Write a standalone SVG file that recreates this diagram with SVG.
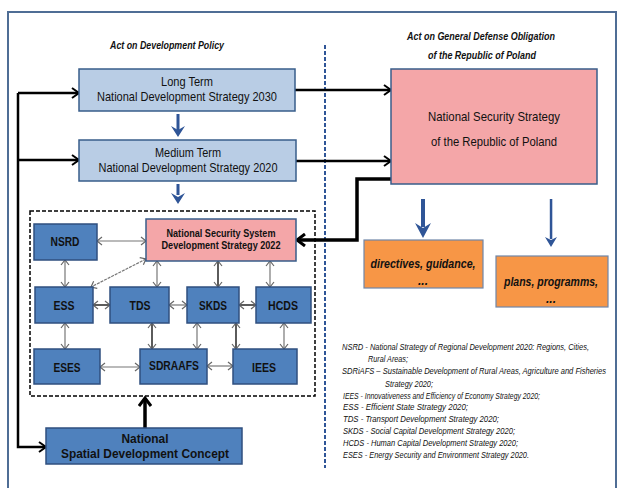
<svg xmlns="http://www.w3.org/2000/svg" width="618" height="488" viewBox="0 0 618 488">
<style>
  text { font-family: "Liberation Sans", Arial, sans-serif; fill: #111; }
  .ttl { font-size: 10px; font-weight: bold; font-style: italic; }
  .lb { fill: #B9CDE5; stroke: #385D8A; stroke-width: 1.5; }
  .db { fill: #4F81BD; stroke: #2F4F7F; stroke-width: 1.5; }
  .pk { fill: #F4A6A8; stroke: #385D8A; stroke-width: 1.5; }
  .or { fill: #F79646; stroke: #6F86A8; stroke-width: 1.2; }
  .t13 { font-size: 13px; text-anchor: middle; }
  .b13 { font-size: 13px; font-weight: bold; text-anchor: middle; }
  .b11 { font-size: 11px; font-weight: bold; text-anchor: middle; }
  .oi { font-size: 12px; font-weight: bold; font-style: italic; text-anchor: middle; }
  .lg { font-size: 8.5px; font-style: italic; fill: #111; }
  .blk { fill: none; stroke: #000; stroke-width: 2.5; marker-end: url(#ah); }
  .thk { fill: none; stroke: #000; stroke-width: 3.5; marker-end: url(#ahb); }
  .dbl { fill: none; stroke: #777; stroke-width: 1.2; marker-start: url(#dh); marker-end: url(#dh); }
  .dbd { fill: none; stroke: #333; stroke-width: 1.6; marker-start: url(#dh); marker-end: url(#dh); }
  .blu { fill: #2F5597; }
</style>
<defs>
  <marker id="ah" markerUnits="userSpaceOnUse" markerWidth="12" markerHeight="12" refX="10" refY="6" orient="auto">
    <path d="M3,1 L10,6 L3,11" fill="none" stroke="#000" stroke-width="2"/>
  </marker>
  <marker id="ahb" markerUnits="userSpaceOnUse" markerWidth="14" markerHeight="14" refX="11" refY="7" orient="auto">
    <path d="M3,1 L11,7 L3,13" fill="none" stroke="#000" stroke-width="3"/>
  </marker>
  <marker id="dh" markerUnits="userSpaceOnUse" markerWidth="10" markerHeight="10" refX="8" refY="5" orient="auto-start-reverse">
    <path d="M3,1 L8,5 L3,9" fill="none" stroke="#666" stroke-width="1.2"/>
  </marker>
</defs>

<rect x="8" y="12" width="608" height="484" fill="#fff" stroke="#4F6D95" stroke-width="2"/>
<line x1="325" y1="45" x2="325" y2="468" stroke="#2F5597" stroke-width="2" stroke-dasharray="4 2"/>
<rect x="30" y="211" width="285" height="185" fill="none" stroke="#000" stroke-width="1.5" stroke-dasharray="4 2"/>

<text class="ttl" x="110" y="49" textLength="114" lengthAdjust="spacingAndGlyphs">Act on Development Policy</text>
<text class="ttl" x="407" y="40" textLength="148" lengthAdjust="spacingAndGlyphs">Act on General Defense Obligation</text>
<text class="ttl" x="428" y="59" textLength="108" lengthAdjust="spacingAndGlyphs">of the Republic of Poland</text>

<g id="connectors">
  <path class="blk" d="M18,93 L79,93"/>
  <path class="blk" d="M18,160 L79,160"/>
  <path class="blk" d="M18,93 L18,447 L46,447"/>
  <path class="blk" d="M295,90 L391,90"/>
  <path class="blk" d="M296,161 L391,161"/>
  <path class="thk" d="M391,179 L357,179 L357,240 L297,240"/>
  <path class="thk" d="M145,428 L145,398"/>
  <rect class="blu" x="176.5" y="114" width="3" height="16"/>
  <path class="blu" d="M171,126 L178,137 L185,126 L178,130 Z"/>
  <rect class="blu" x="176.5" y="184" width="3" height="11"/>
  <path class="blu" d="M171,193 L178,204 L185,193 L178,197 Z"/>
  <rect class="blu" x="421" y="199" width="4" height="28"/>
  <path class="blu" d="M415,223 L423,238 L431,223 L423,228 Z"/>
  <rect class="blu" x="549.8" y="199" width="2.5" height="40"/>
  <path class="blu" d="M545,237 L551,247 L557,237 L551,240 Z"/>
  <path class="dbl" d="M97,241 L146,241"/>
  <path class="dbl" d="M65,260 L65,287"/>
  <path class="dbl" d="M146,259 L91,287" stroke-dasharray="3 1"/>
  <path class="dbl" d="M157,261 L157,287"/>
  <path class="dbd" d="M218,261 L218,287"/>
  <path class="dbl" d="M270,261 L270,287"/>
  <path class="dbd" d="M93,305 L110,305"/>
  <path class="dbl" d="M169,305 L187,305"/>
  <path class="dbd" d="M239,305 L256,305"/>
  <path class="dbl" d="M65,323 L65,349"/>
  <path class="dbd" d="M152,323 L152,349"/>
  <path class="dbl" d="M197,323 L197,349"/>
  <path class="dbd" d="M236,323 L236,349"/>
  <path class="dbl" d="M284,323 L284,349"/>
  <path class="dbl" d="M100,367 L140,367" stroke-width="2.5" stroke="#999"/>
  <path class="dbl" d="M207,366 L233,366"/>
</g>

<g id="long-term">
  <rect class="lb" x="79" y="69" width="216" height="42"/>
  <text class="t13" x="187" y="86" textLength="52" lengthAdjust="spacingAndGlyphs">Long Term</text>
  <text class="t13" x="187" y="101" textLength="180" lengthAdjust="spacingAndGlyphs">National Development Strategy 2030</text>
</g>
<g id="medium-term">
  <rect class="lb" x="79" y="140" width="217" height="41"/>
  <text class="t13" x="188" y="157" textLength="66" lengthAdjust="spacingAndGlyphs">Medium Term</text>
  <text class="t13" x="188" y="172" textLength="179" lengthAdjust="spacingAndGlyphs">National Development Strategy 2020</text>
</g>
<g id="nss">
  <rect class="pk" x="391" y="69" width="206" height="115"/>
  <text class="t13" x="494" y="121" textLength="132" lengthAdjust="spacingAndGlyphs">National  Security Strategy</text>
  <text class="t13" x="494" y="146" textLength="126" lengthAdjust="spacingAndGlyphs">of the Republic of Poland</text>
</g>
<g id="directives">
  <rect class="or" x="364" y="240" width="119" height="48"/>
  <text class="oi" x="423" y="268" textLength="105" lengthAdjust="spacingAndGlyphs">directives, guidance,</text>
  <text class="oi" x="423" y="285">...</text>
</g>
<g id="plans">
  <rect class="or" x="496" y="256" width="112" height="51"/>
  <text class="oi" x="551" y="286" textLength="94" lengthAdjust="spacingAndGlyphs">plans, programms,</text>
  <text class="oi" x="551" y="303">...</text>
</g>
<g id="nssds">
  <rect class="pk" x="146" y="219" width="150" height="42"/>
  <text class="b11" x="221" y="237" textLength="109" lengthAdjust="spacingAndGlyphs">National Security System</text>
  <text class="b11" x="221" y="249" textLength="119" lengthAdjust="spacingAndGlyphs">Development Strategy  2022</text>
</g>
<g id="nsrd">
  <rect class="db" x="34" y="224" width="63" height="36"/>
  <text class="b13" x="65" y="246" textLength="29" lengthAdjust="spacingAndGlyphs">NSRD</text>
</g>
<g id="ess">
  <rect class="db" x="35" y="287" width="58" height="36"/>
  <text class="b13" x="64" y="310" textLength="21" lengthAdjust="spacingAndGlyphs">ESS</text>
</g>
<g id="tds">
  <rect class="db" x="110" y="287" width="59" height="36"/>
  <text class="b13" x="140" y="310" textLength="21" lengthAdjust="spacingAndGlyphs">TDS</text>
</g>
<g id="skds">
  <rect class="db" x="187" y="287" width="52" height="36"/>
  <text class="b13" x="213" y="310" textLength="28" lengthAdjust="spacingAndGlyphs">SKDS</text>
</g>
<g id="hcds">
  <rect class="db" x="256" y="287" width="55" height="36"/>
  <text class="b13" x="283" y="310" textLength="30" lengthAdjust="spacingAndGlyphs">HCDS</text>
</g>
<g id="eses">
  <rect class="db" x="34" y="349" width="66" height="35"/>
  <text class="b13" x="67" y="372" textLength="27" lengthAdjust="spacingAndGlyphs">ESES</text>
</g>
<g id="sdraafs">
  <rect class="db" x="140" y="349" width="67" height="35"/>
  <text class="b13" x="174" y="370" textLength="50" lengthAdjust="spacingAndGlyphs">SDRAAFS</text>
</g>
<g id="iees">
  <rect class="db" x="233" y="349" width="64" height="35"/>
  <text class="b13" x="264" y="372" textLength="24" lengthAdjust="spacingAndGlyphs">IEES</text>
</g>
<g id="nsdc">
  <rect class="db" x="46" y="428" width="196" height="36"/>
  <text class="b13" x="145" y="443" textLength="47" lengthAdjust="spacingAndGlyphs">National</text>
  <text class="b13" x="145" y="458" textLength="168" lengthAdjust="spacingAndGlyphs">Spatial Development Concept</text>
</g>

<g id="legend">
  <text class="lg" x="342" y="350" textLength="247" lengthAdjust="spacingAndGlyphs">NSRD  - National Strategy of Regional Development 2020: Regions, Cities,</text>
  <text class="lg" x="368" y="362" textLength="40" lengthAdjust="spacingAndGlyphs">Rural Areas;</text>
  <text class="lg" x="342" y="374" textLength="264" lengthAdjust="spacingAndGlyphs">SDRiAFS  –  Sustainable Development of Rural Areas, Agriculture and Fisheries</text>
  <text class="lg" x="385" y="387" textLength="48" lengthAdjust="spacingAndGlyphs">Strategy 2020;</text>
  <text class="lg" x="343" y="399" textLength="197" lengthAdjust="spacingAndGlyphs">IEES - Innovativeness and Efficiency of Economy Strategy 2020;</text>
  <text class="lg" x="343" y="410" textLength="125" lengthAdjust="spacingAndGlyphs">ESS  -  Efficient State Strategy 2020;</text>
  <text class="lg" x="343" y="422" textLength="156" lengthAdjust="spacingAndGlyphs">TDS  -  Transport Development Strategy 2020;</text>
  <text class="lg" x="343" y="434" textLength="172" lengthAdjust="spacingAndGlyphs">SKDS -  Social Capital Development Strategy 2020;</text>
  <text class="lg" x="343" y="446" textLength="175" lengthAdjust="spacingAndGlyphs">HCDS -  Human Capital Development Strategy 2020;</text>
  <text class="lg" x="343" y="458" textLength="186" lengthAdjust="spacingAndGlyphs">ESES - Energy Security and Environment Strategy 2020.</text>
</g>
</svg>
